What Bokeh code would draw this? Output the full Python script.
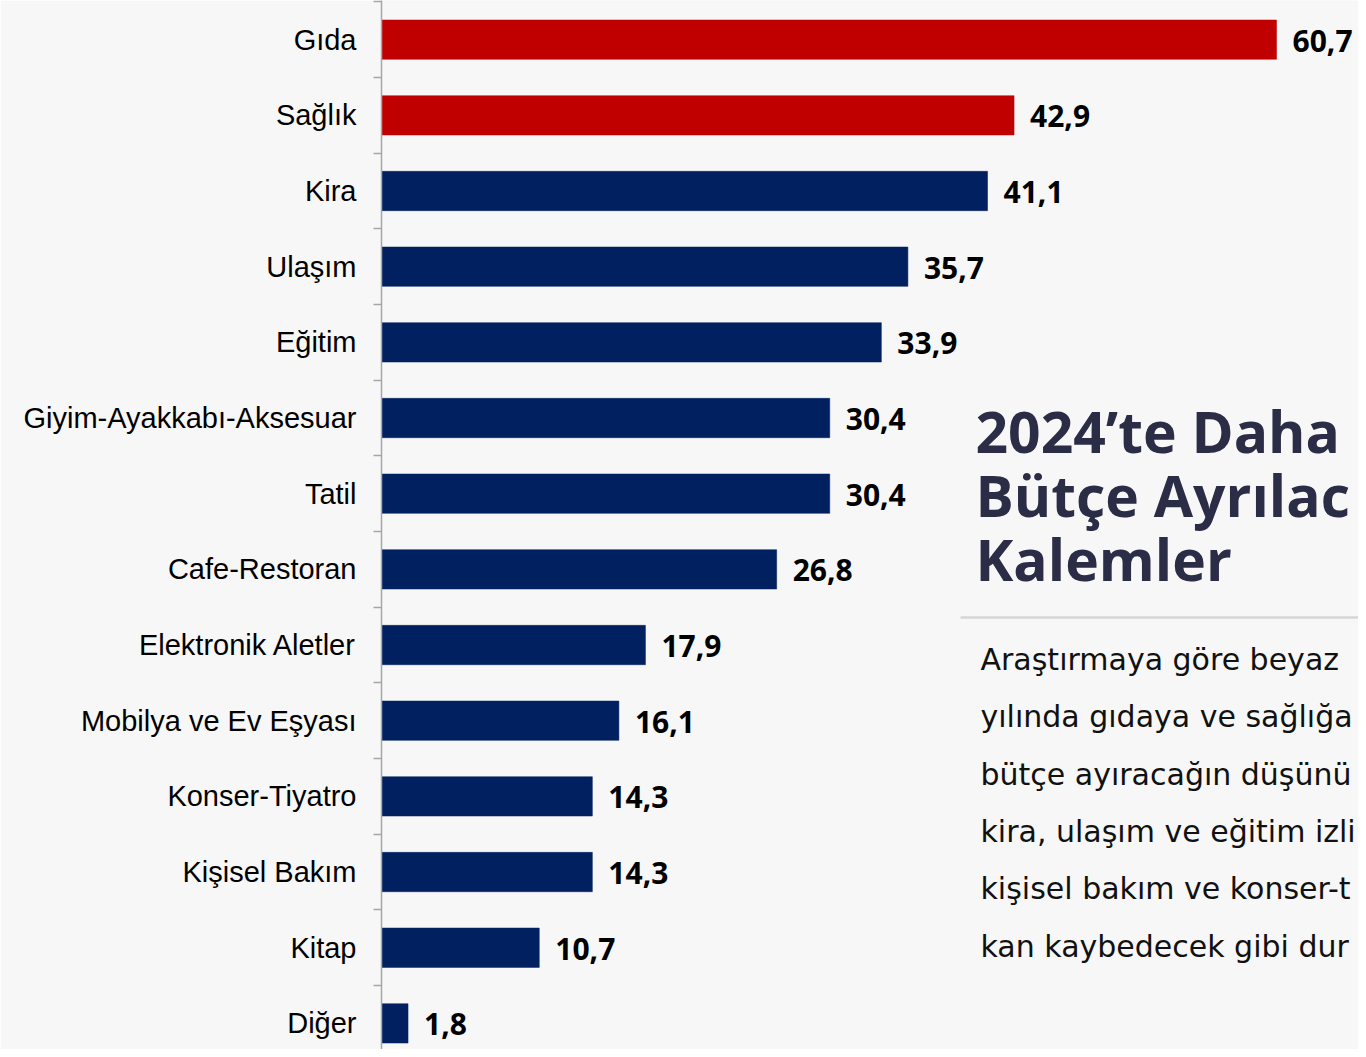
from bokeh.plotting import figure
from bokeh.models import Range1d, FixedTicker, Label, ColumnDataSource
from bokeh.core.properties import value
from bokeh.embed import file_html
from bokeh.resources import INLINE

# ---- data ----
categories = ["Gıda", "Sağlık", "Kira", "Ulaşım", "Eğitim", "Giyim-Ayakkabı-Aksesuar",
              "Tatil", "Cafe-Restoran", "Elektronik Aletler", "Mobilya ve Ev Eşyası",
              "Konser-Tiyatro", "Kişisel Bakım", "Kitap", "Diğer"]
values = [60.7, 42.9, 41.1, 35.7, 33.9, 30.4, 30.4, 26.8, 17.9, 16.1, 14.3, 14.3, 10.7, 1.8]
highlighted = ["Gıda", "Sağlık"]

# text as visible in the reference (cut at the right edge there)
title_lines = ["2024’te Daha", "Bütçe Ayrılac", "Kalemler"]
body_lines = ["Araştırmaya göre beyaz",
              "yılında gıdaya ve sağlığa",
              "bütçe ayıracağın düşünü",
              "kira, ulaşım ve eğitim izli",
              "kişisel bakım ve konser-t",
              "kan kaybedecek gibi dur"]

# ---- styling / layout ----
BG = "#f7f7f7"
RED = "#c00000"
NAVY = "#002060"
AXIS = "#a6a6a6"
W, H = 1358, 1049
LEFT = 381
PX_PER_UNIT = 14.745
BAND = 75.67
BAND_TOP = 1.33

def px_x(x):
    return (x - LEFT) / PX_PER_UNIT

def px_y(y):
    return (y - BAND_TOP) / BAND

n = len(categories)
centers = [i + 0.5 for i in range(n)]
bounds = [float(i) for i in range(n + 1)]
colors = [RED if c in highlighted else NAVY for c in categories]
labels = [f"{v:.1f}".replace(".", ",") for v in values]

src = ColumnDataSource(dict(y=centers, v=values, c=colors, t=labels))

p = figure(width=W, height=H, output_backend="svg", toolbar_location=None,
           x_range=Range1d(0, (W - LEFT) / PX_PER_UNIT),
           y_range=Range1d(px_y(H), px_y(0)),
           x_axis_location=None,
           min_border_left=LEFT, min_border_right=0, min_border_top=0, min_border_bottom=0)
p.background_fill_color = BG
p.border_fill_color = BG
p.outline_line_color = None
p.xgrid.visible = False
p.ygrid.visible = False

p.hbar(y="y", left=0, right="v", height=0.52, fill_color="c", line_color="c", line_width=0.5, source=src)
p.text(x="v", y="y", text="t", x_offset=16, y_offset=1, text_baseline="middle", text_align="left",
       text_font=value("Open Sans"), text_font_style="bold", text_font_size="30px",
       text_color="#000000", source=src)

ax = p.yaxis[0]
ax.ticker = FixedTicker(ticks=centers, minor_ticks=bounds)
ax.major_label_overrides = {c: name for c, name in zip(centers, categories)}
ax.major_tick_line_color = None
ax.major_tick_out = 0
ax.major_tick_in = 0
ax.minor_tick_line_color = AXIS
ax.minor_tick_line_width = 1.5
ax.minor_tick_out = 8
ax.minor_tick_in = 0
ax.axis_line_color = AXIS
ax.axis_line_width = 1.5
ax.major_label_standoff = 17
ax.major_label_text_font = "Liberation Sans"
ax.major_label_text_font_size = "29px"
ax.major_label_text_color = "#000000"

# title block
for i, line in enumerate(title_lines):
    p.add_layout(Label(x=px_x(975), y=px_y(430 + 64 * i), text=line,
                       text_font="Open Sans", text_font_style="bold", text_font_size="57px",
                       text_color="#2a2d45", text_baseline="middle"))

p.segment(x0=[px_x(960)], x1=[px_x(1400)], y0=[px_y(617)], y1=[px_y(617)],
          line_color="#d6d6d6", line_width=2.5)

for i, line in enumerate(body_lines):
    p.add_layout(Label(x=px_x(980), y=px_y(659 + 57.3 * i), text=line,
                       text_font="DejaVu Sans", text_font_size="30px",
                       text_color="#111111", text_baseline="middle"))

open("out.html", "w").write(file_html(p, INLINE))
